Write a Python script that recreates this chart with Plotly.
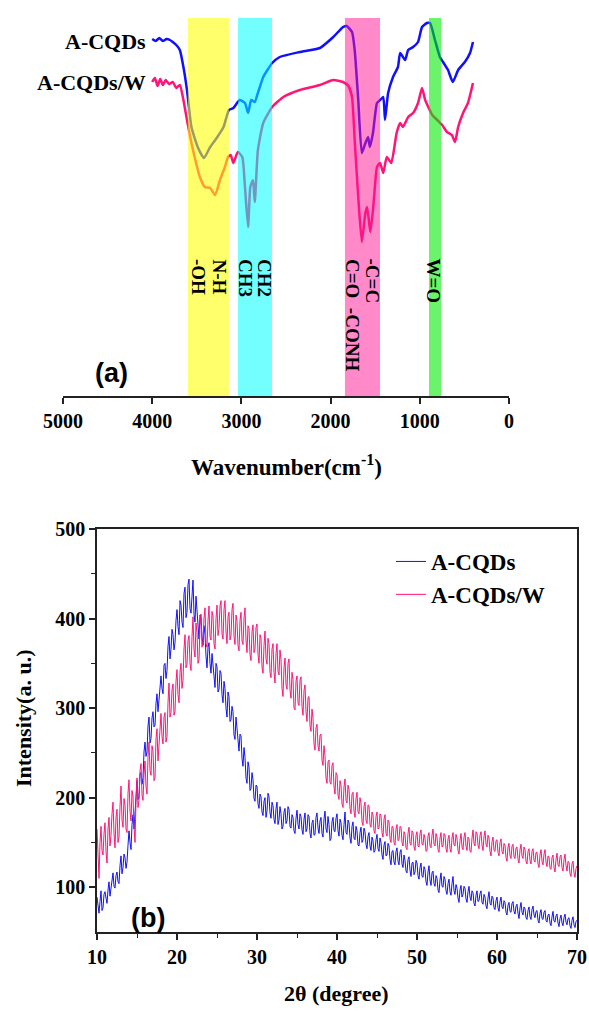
import plotly.graph_objects as go

# ---------------- FTIR data (panel a) ----------------
ftir_wn_a = [4000, 3960, 3920, 3880, 3840, 3800, 3770, 3730, 3690, 3650, 3610, 3560, 3490, 3420, 3350, 3270,
             3200, 3140, 3090, 3020, 2960, 2925, 2890, 2850, 2815, 2755, 2655, 2570, 2345, 2120, 1970, 1860,
             1820, 1760, 1730, 1690, 1650, 1610, 1580, 1560, 1525, 1480, 1445, 1410, 1390, 1355, 1300, 1245,
             1220, 1165, 1130, 1075, 1020, 975, 920, 885, 830, 775, 740, 684, 630, 570, 495, 437, 404]
ftir_t_a = [357, 355, 358, 355, 357, 356, 354, 351, 346, 329, 306, 269, 249, 238, 249, 259,
            269, 286, 288, 296, 293, 283, 296, 294, 303, 319, 333, 339, 344, 348, 359, 369,
            370, 364, 346, 296, 243, 253, 259, 249, 263, 293, 296, 299, 276, 303, 319, 329,
            343, 336, 346, 349, 354, 369, 373, 373, 356, 339, 334, 326, 314, 326, 334, 343, 354]

ftir_wn_w = [4000, 3970, 3940, 3910, 3880, 3850, 3810, 3770, 3730, 3690, 3650, 3610, 3560, 3465, 3410, 3350,
             3295, 3240, 3185, 3150, 3120, 3090, 3040, 2990, 2960, 2925, 2900, 2870, 2850, 2815, 2755, 2655,
             2530, 2345, 2120, 1970, 1860, 1800, 1760, 1730, 1690, 1650, 1610, 1590, 1555, 1525, 1500, 1480,
             1445, 1410, 1370, 1320, 1260, 1220, 1190, 1130, 1075, 1020, 975, 940, 905, 860, 805, 750,
             695, 640, 605, 570, 515, 460, 404]
ftir_t_w = [314, 318, 310, 317, 311, 316, 312, 314, 308, 311, 296, 276, 253, 219, 209, 208,
            201, 216, 229, 239, 241, 233, 244, 239, 209, 169, 209, 216, 194, 246, 273, 289,
            299, 306, 311, 316, 314, 310, 299, 256, 199, 154, 183, 189, 164, 186, 213, 229,
            233, 223, 239, 233, 263, 273, 269, 279, 283, 293, 308, 296, 289, 281, 276, 271,
            264, 261, 254, 269, 283, 293, 313]

bands = [(3600, 3140, "rgba(255,255,0,0.58)"),
         (3038, 2657, "rgba(0,255,255,0.55)"),
         (1839, 1446, "rgba(255,20,147,0.50)"),
         (897, 762, "rgba(0,235,0,0.58)")]
band_labels = [("-OH", 3475), ("N-H", 3251), ("CH3", 2948), ("CH2", 2735),
               ("C=O&nbsp;&nbsp;-CONH", 1749), ("-C=C", 1525), ("W=O", 841)]
ftir_ticks = [5000, 4000, 3000, 2000, 1000, 0]

# ---------------- XRD data (panel b) ----------------
xrd_cqd = [
    89, 78, 71, 84, 96, 74, 77, 92, 95, 88, 82, 97, 106, 90, 99, 110,
    116, 101, 99, 113, 117, 106, 104, 124, 135, 115, 122, 137, 133, 121, 128, 147,
    163, 150, 142, 170, 181, 165, 181, 203, 219, 198, 200, 226, 228, 215, 222, 251,
    262, 246, 251, 280, 290, 261, 266, 289, 296, 279, 281, 305, 316, 296, 310, 330,
    336, 322, 316, 348, 350, 333, 342, 369, 380, 355, 366, 388, 382, 365, 373, 398,
    410, 391, 382, 420, 415, 396, 390, 428, 435, 401, 407, 438, 444, 411, 406, 425,
    443, 405, 396, 425, 410, 385, 377, 404, 401, 380, 370, 392, 382, 358, 345, 368,
    373, 350, 339, 361, 347, 330, 323, 350, 346, 318, 321, 342, 339, 315, 306, 330,
    322, 300, 290, 318, 313, 285, 287, 302, 296, 270, 265, 290, 276, 258, 252, 271,
    269, 244, 235, 256, 245, 222, 216, 240, 234, 208, 210, 228, 220, 199, 196, 214,
    213, 193, 188, 204, 201, 184, 180, 196, 200, 178, 185, 205, 201, 183, 177, 195,
    191, 176, 171, 188, 195, 170, 175, 190, 182, 165, 168, 184, 188, 171, 174, 190,
    187, 168, 166, 181, 178, 163, 160, 177, 186, 170, 165, 182, 179, 164, 159, 176,
    183, 162, 165, 181, 179, 160, 155, 172, 175, 158, 159, 178, 183, 166, 160, 174,
    178, 160, 156, 176, 185, 165, 161, 179, 170, 152, 154, 173, 178, 163, 162, 177,
    182, 163, 157, 176, 172, 158, 153, 170, 184, 161, 159, 175, 172, 155, 149, 168,
    173, 155, 153, 168, 163, 147, 146, 161, 167, 150, 153, 166, 162, 148, 143, 157,
    161, 146, 141, 156, 152, 139, 141, 153, 159, 143, 140, 155, 150, 136, 131, 147,
    151, 135, 136, 149, 146, 131, 125, 140, 141, 128, 125, 140, 144, 129, 125, 139,
    142, 126, 122, 136, 130, 118, 116, 131, 134, 119, 112, 127, 128, 114, 117, 130,
    127, 113, 109, 122, 127, 112, 111, 123, 120, 106, 102, 117, 124, 108, 102, 116,
    118, 104, 101, 113, 110, 97, 94, 108, 116, 101, 100, 112, 109, 96, 92, 104,
    109, 95, 91, 104, 112, 96, 92, 103, 99, 88, 83, 97, 102, 89, 92, 101,
    99, 87, 83, 95, 101, 89, 85, 96, 94, 82, 79, 91, 96, 84, 85, 93,
    96, 83, 81, 92, 89, 79, 76, 88, 95, 82, 80, 90, 88, 77, 75, 85,
    89, 77, 73, 84, 89, 78, 76, 85, 83, 72, 69, 80, 83, 73, 72, 82,
    84, 73, 70, 79, 81, 71, 65, 77, 83, 72, 69, 78, 76, 66, 64, 74,
    78, 67, 64, 75, 79, 69, 66, 73, 74, 63, 60, 71, 75, 65, 64, 72,
    74, 63, 61, 69, 70, 60, 57, 67, 73, 62, 61, 68, 70, 60, 56, 65,
    69, 60, 57, 66, 70, 61, 58, 65, 66, 57, 54, 63, 67, 58, 55, 62,
    63]
xrd_cqd_w = [
    165, 128, 110, 150, 168, 141, 136, 160, 172, 140, 127, 165, 178, 146, 158, 182,
    195, 160, 144, 178, 187, 150, 156, 190, 213, 175, 167, 199, 192, 165, 161, 205,
    220, 185, 174, 208, 201, 168, 150, 196, 222, 189, 197, 230, 238, 203, 197, 226,
    241, 212, 204, 245, 262, 230, 225, 258, 252, 219, 222, 266, 277, 241, 259, 285,
    294, 268, 260, 290, 295, 262, 268, 306, 328, 290, 295, 320, 327, 292, 296, 330,
    343, 315, 306, 340, 350, 322, 331, 366, 382, 345, 349, 375, 381, 350, 342, 380,
    402, 366, 357, 395, 384, 350, 354, 392, 405, 368, 373, 400, 412, 372, 368, 398,
    414, 380, 376, 408, 403, 372, 366, 400, 415, 381, 389, 414, 420, 383, 377, 410,
    420, 385, 372, 402, 407, 376, 381, 410, 417, 380, 371, 404, 397, 370, 364, 398,
    407, 375, 371, 400, 412, 376, 362, 392, 389, 360, 353, 385, 393, 362, 366, 390,
    394, 360, 350, 382, 378, 346, 339, 370, 386, 355, 349, 378, 372, 340, 334, 366,
    372, 340, 328, 361, 372, 341, 337, 365, 354, 322, 313, 345, 356, 326, 321, 350,
    355, 320, 311, 340, 332, 300, 298, 330, 336, 306, 303, 331, 335, 302, 292, 320,
    326, 296, 285, 312, 313, 280, 274, 299, 289, 260, 253, 278, 282, 258, 252, 270,
    271, 242, 236, 258, 247, 222, 216, 240, 242, 217, 215, 236, 239, 212, 204, 228,
    226, 203, 198, 219, 214, 193, 189, 212, 221, 197, 194, 214, 209, 188, 182, 204,
    206, 185, 178, 199, 206, 184, 182, 200, 194, 173, 169, 190, 195, 175, 171, 192,
    191, 170, 167, 184, 181, 163, 160, 179, 184, 165, 166, 182, 180, 161, 156, 176,
    181, 160, 157, 175, 173, 154, 150, 168, 167, 150, 147, 165, 170, 152, 153, 168,
    167, 150, 146, 162, 159, 144, 142, 160, 167, 149, 147, 163, 161, 145, 141, 158,
    162, 146, 145, 160, 164, 148, 147, 159, 155, 140, 141, 157, 161, 146, 144, 158,
    165, 148, 146, 160, 156, 142, 139, 155, 161, 145, 146, 160, 158, 143, 139, 154,
    158, 143, 139, 155, 161, 147, 146, 159, 155, 141, 137, 152, 160, 145, 142, 156,
    161, 146, 141, 156, 154, 140, 139, 155, 164, 149, 146, 162, 160, 147, 143, 158,
    162, 147, 141, 157, 163, 148, 145, 158, 155, 140, 135, 151, 156, 141, 140, 152,
    153, 139, 135, 150, 154, 140, 137, 149, 147, 133, 129, 145, 149, 135, 132, 146,
    148, 134, 132, 144, 145, 131, 127, 142, 148, 135, 132, 145, 142, 129, 126, 140,
    143, 130, 126, 140, 143, 130, 128, 139, 139, 126, 122, 136, 142, 129, 125, 137,
    142, 128, 123, 135, 134, 121, 120, 133, 136, 122, 117, 131, 138, 125, 123, 134,
    136, 122, 118, 131, 137, 124, 118, 129, 128, 115, 112, 126, 129, 116, 111, 121,
    124]
xrd_2theta = [10 + 0.125 * i for i in range(len(xrd_cqd))]

BLUE = "#1010FF"
PINK = "#FF1478"
SERIF = "Liberation Serif"
SANS = "Liberation Sans"

W, H = 589, 1011

def px(xp):
    return xp / W

def py(yp):
    return 1 - yp / H

fig = go.Figure()

# FTIR curves
fig.add_trace(go.Scatter(x=ftir_wn_a, y=ftir_t_a, mode="lines",
                         line=dict(color=BLUE, width=2.5, shape="spline", smoothing=0.5),
                         xaxis="x", yaxis="y", showlegend=False))
fig.add_trace(go.Scatter(x=ftir_wn_w, y=ftir_t_w, mode="lines",
                         line=dict(color=PINK, width=2.5, shape="spline", smoothing=0.5),
                         xaxis="x", yaxis="y", showlegend=False))

# XRD curves
fig.add_trace(go.Scatter(x=xrd_2theta, y=xrd_cqd, mode="lines", name="A-CQDs",
                         line=dict(color=BLUE, width=1), xaxis="x2", yaxis="y2"))
fig.add_trace(go.Scatter(x=xrd_2theta, y=xrd_cqd_w, mode="lines", name="A-CQDs/W",
                         line=dict(color=PINK, width=1), xaxis="x2", yaxis="y2"))

shapes = []
for x0, x1, col in bands:
    shapes.append(dict(type="rect", xref="x", yref="y", x0=x0, x1=x1, y0=0, y1=378,
                       fillcolor=col, line=dict(width=0), layer="above"))

annotations = []
for txt, wn in band_labels:
    annotations.append(dict(text=txt, x=wn, y=139, xref="x", yref="y", showarrow=False,
                            textangle=90, xanchor="center", yanchor="top",
                            font=dict(family=SERIF, size=19, color="black", weight="bold")))

annotations += [
    dict(text="A-CQDs", x=px(148), y=py(42), xref="paper", yref="paper", xanchor="right", yanchor="middle",
         showarrow=False, font=dict(family=SERIF, size=22, color="black", weight="bold")),
    dict(text="A-CQDs/W", x=px(148), y=py(83), xref="paper", yref="paper", xanchor="right", yanchor="middle",
         showarrow=False, font=dict(family=SERIF, size=22, color="black", weight="bold")),
    dict(text="(a)", x=px(111), y=py(373), xref="paper", yref="paper", xanchor="center", yanchor="middle",
         showarrow=False, font=dict(family=SANS, size=27, color="black", weight="bold")),
    dict(text="Wavenumber(cm<sup>-1</sup>)", x=px(286), y=py(465), xref="paper", yref="paper",
         xanchor="center", yanchor="middle", showarrow=False,
         font=dict(family=SERIF, size=23, color="black", weight="bold")),
    dict(text="(b)", x=px(148), y=py(918), xref="paper", yref="paper", xanchor="center", yanchor="middle",
         showarrow=False, font=dict(family=SANS, size=27, color="black", weight="bold")),
    dict(text="Intensity(a. u.)", x=px(23), y=py(718), xref="paper", yref="paper", textangle=-90,
         xanchor="center", yanchor="middle", showarrow=False,
         font=dict(family=SERIF, size=22, color="black", weight="bold")),
    dict(text="2θ (degree)", x=px(336), y=py(993), xref="paper", yref="paper",
         xanchor="center", yanchor="middle", showarrow=False,
         font=dict(family=SERIF, size=22, color="black", weight="bold")),
]

tickfont = dict(family=SERIF, size=20, color="black", weight="bold")

fig.update_layout(
    width=W, height=H,
    margin=dict(l=0, r=0, t=0, b=0, autoexpand=False),
    paper_bgcolor="white", plot_bgcolor="white",
    xaxis=dict(domain=[px(63), px(509)], range=[5000, 0], anchor="y", automargin=False,
               tickvals=ftir_ticks, ticks="outside", ticklen=6, tickwidth=1.5, tickcolor="#222",
               showline=True, linecolor="#222", linewidth=1.5, showgrid=False, zeroline=False,
               tickfont=tickfont),
    yaxis=dict(domain=[py(396), py(10)], range=[0, 386], visible=False, anchor="x", automargin=False),
    xaxis2=dict(domain=[px(97), px(577)], range=[10, 70], anchor="y2", automargin=False,
                tickvals=[10, 20, 30, 40, 50, 60, 70], ticks="outside", ticklen=6, tickwidth=1.5,
                tickcolor="#222", minor=dict(tickvals=[15, 25, 35, 45, 55, 65], ticks="outside", ticklen=4,
                                            tickwidth=1.2, tickcolor="#222"),
                showline=True, linecolor="#222", linewidth=1.5, mirror=True, showgrid=False, zeroline=False,
                tickfont=tickfont),
    yaxis2=dict(domain=[py(932), py(529)], range=[50, 500], anchor="x2", automargin=False,
                tickvals=[100, 200, 300, 400, 500], ticks="outside", ticklen=6, tickwidth=1.5,
                tickcolor="#222", minor=dict(tickvals=[150, 250, 350, 450], ticks="outside", ticklen=4,
                                            tickwidth=1.2, tickcolor="#222"),
                showline=True, linecolor="#222", linewidth=1.5, mirror=True, showgrid=False, zeroline=False,
                tickfont=tickfont),
    legend=dict(x=px(391), y=py(540), xanchor="left", yanchor="top", bgcolor="rgba(0,0,0,0)",
                font=dict(family=SERIF, size=23, color="black", weight="bold"), tracegroupgap=0),
    shapes=shapes,
    annotations=annotations,
)

fig.write_html("out.html")
